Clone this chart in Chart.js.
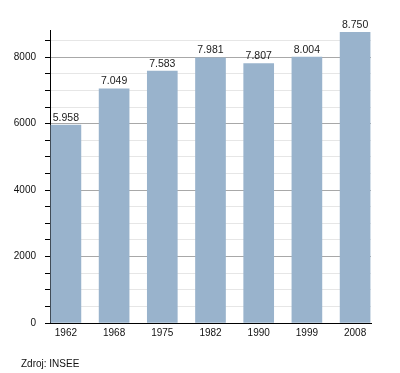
<!DOCTYPE html>
<html>
<head>
<meta charset="utf-8">
<script src="https://cdn.jsdelivr.net/npm/chart.js@4"></script>
<style>
  html, body { margin: 0; padding: 0; background: #fff; }
</style>
</head>
<body>
<canvas id="myChart" width="400" height="373"></canvas>
<script>
// data
const years = ["1962", "1968", "1975", "1982", "1990", "1999", "2008"];
const population = [5958, 7049, 7583, 7981, 7807, 8004, 8750];
const yLabels = [0, 2000, 4000, 6000, 8000];
const yMinorStep = 500;
const yMax = 8820;
const source = "Zdroj: INSEE";

const font = "'Liberation Sans', Arial, sans-serif";

function fmt(n) {
  return String(n).replace(/\B(?=(\d{3})+(?!\d))/g, ".");
}

const extras = {
  id: "extras",
  afterDatasetsDraw(chart) {
    const ctx = chart.ctx;
    const meta = chart.getDatasetMeta(0);
    ctx.save();
    ctx.fillStyle = "#222";
    ctx.font = "10.5px " + font;
    ctx.textAlign = "center";
    ctx.textBaseline = "alphabetic";
    meta.data.forEach(function (bar, i) {
      ctx.fillText(fmt(population[i]), bar.x, bar.y - 4.5);
    });
    ctx.font = "10px " + font;
    ctx.textAlign = "left";
    ctx.fillStyle = "#111";
    ctx.fillText(source, 21, 367);
    ctx.restore();
  },
};

const ctx = document.getElementById("myChart");
new Chart(ctx, {
  type: "bar",
  data: {
    datasets: [
      {
        data: population.map(function (v, i) { return { x: i, y: v }; }),
        backgroundColor: "#99b3cc",
        borderWidth: 0,
        barThickness: 30,
      },
    ],
  },
  options: {
    responsive: false,
    animation: false,
    devicePixelRatio: 1,
    layout: { padding: { left: 10, right: 29, top: 30, bottom: 30 } },
    plugins: { legend: { display: false }, tooltip: { enabled: false } },
    scales: {
      x: {
        type: "linear",
        min: -0.33,
        max: years.length - 1 + 0.33,
        offset: false,
        grid: { display: false, drawTicks: false, offset: false },
        border: { color: "#000", width: 1 },
        afterBuildTicks: function (scale) {
          scale.ticks = years.map(function (y, i) { return { value: i }; });
        },
        afterFit: function (scale) { scale.height = 20; },
        ticks: {
          padding: 4,
          color: "#111",
          font: { family: font, size: 10 },
          maxRotation: 0,
          autoSkip: false,
          callback: function (value) { return years[value]; },
        },
      },
      y: {
        min: 0,
        max: yMax,
        afterBuildTicks: function (scale) {
          const t = [];
          for (let v = 0; v <= yMax; v += yMinorStep) t.push({ value: v });
          scale.ticks = t;
        },
        afterFit: function (scale) { scale.width = 40; },
        grid: {
          color: function (c) {
            return c.tick && yLabels.includes(c.tick.value) ? "#a8a8a8" : "#e6e6e6";
          },
          tickColor: "#000",
          tickLength: 5,
        },
        border: { color: "#000", width: 1 },
        ticks: {
          padding: 9,
          color: "#111",
          font: { family: font, size: 10 },
          autoSkip: false,
          callback: function (value) {
            return yLabels.includes(value) ? String(value) : "";
          },
        },
      },
    },
  },
  plugins: [extras],
});
</script>
</body>
</html>
